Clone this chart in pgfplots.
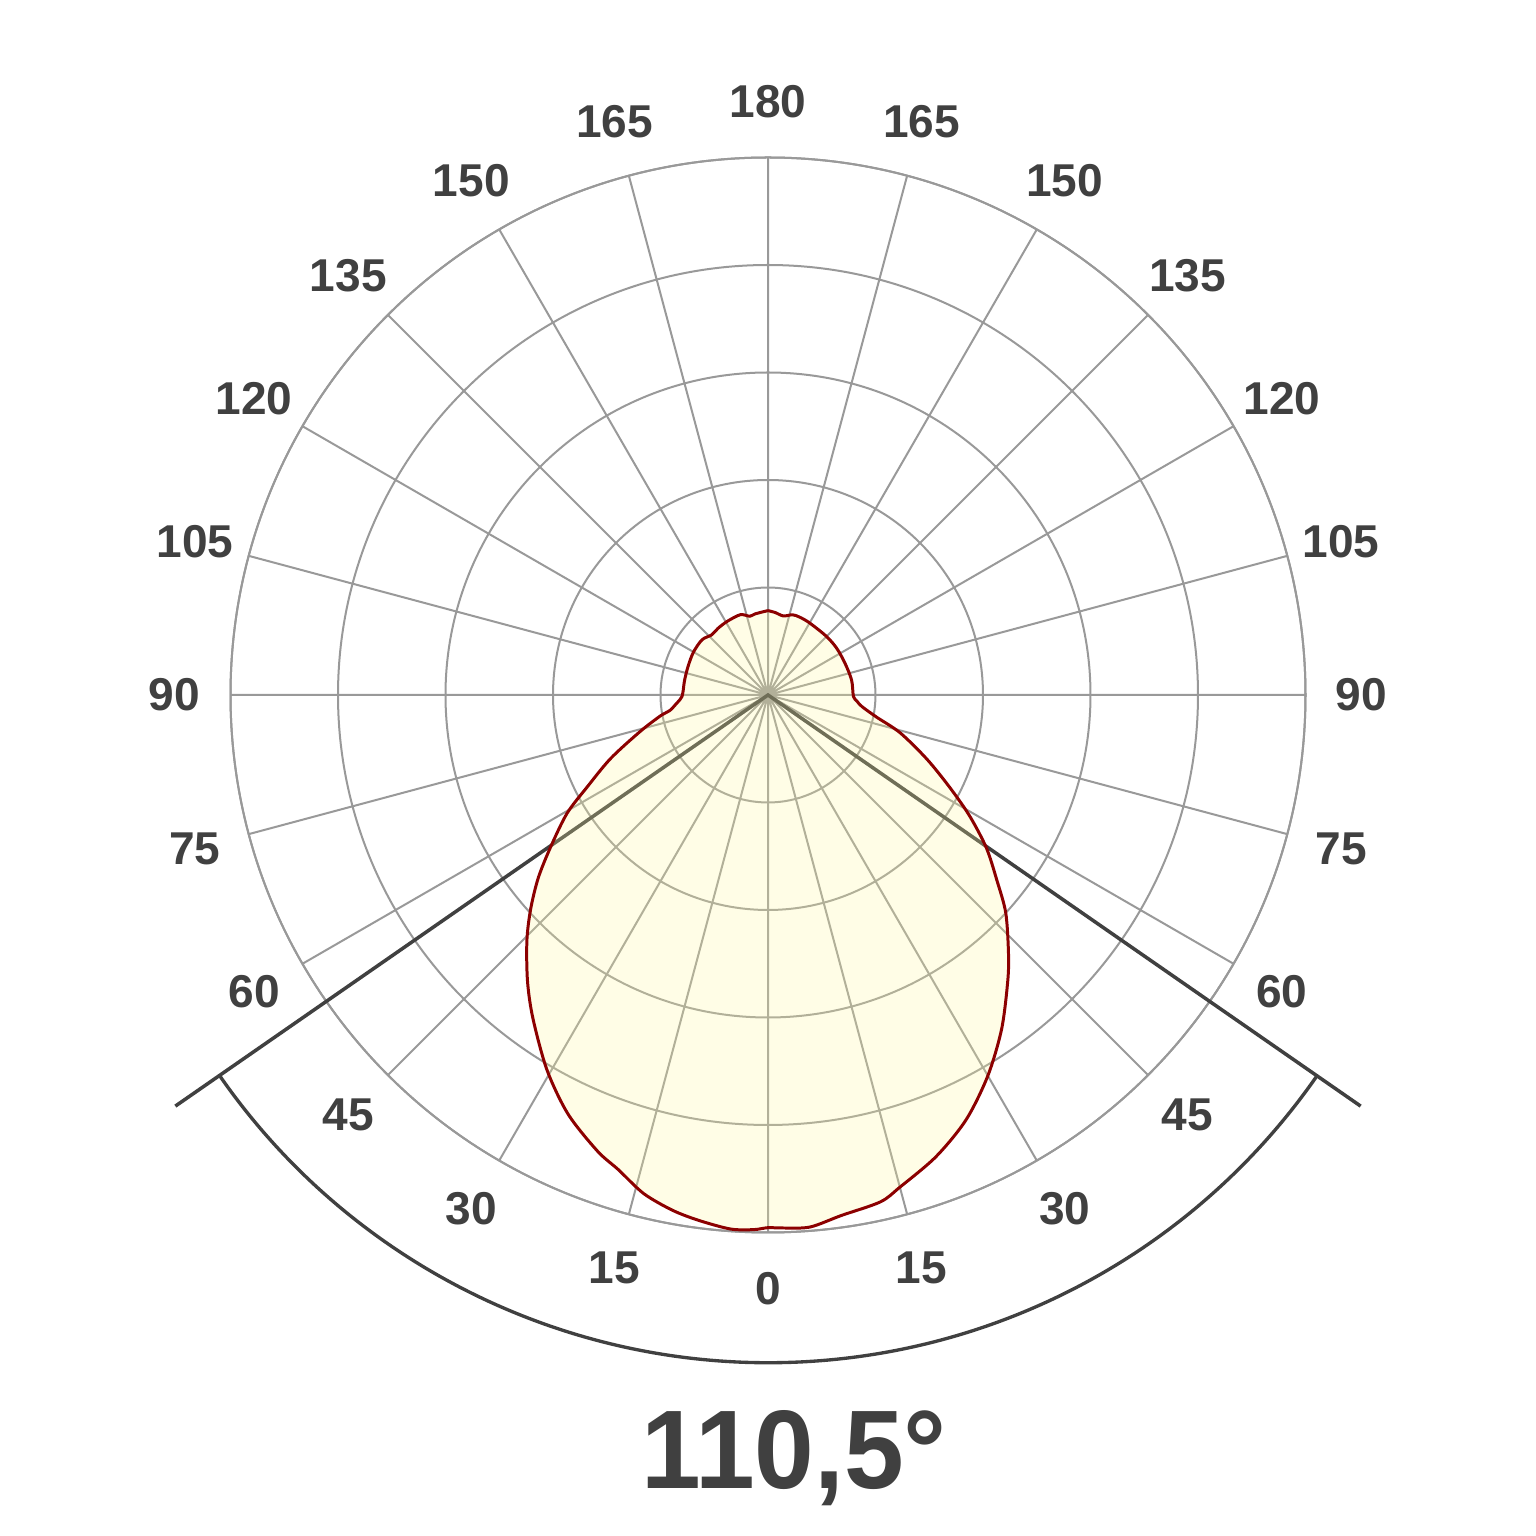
\documentclass[border=0pt]{standalone}
\usepackage{pgfplots}
\pgfplotsset{compat=1.18}
\usepackage{pgfplotstable}
\usepgfplotslibrary{polar}
\usepackage{fontspec}
\setmainfont{Liberation Sans}
\newfontfamily\lblfont{Liberation Sans}
\newfontfamily\titlefont{Liberation Sans}[FakeStretch=0.96]

\definecolor{gridgray}{RGB}{153,153,153}
\definecolor{txtgray}{RGB}{64,64,64}
\definecolor{curvered}{RGB}{140,0,0}
\definecolor{lightyellow}{RGB}{255,248,156}

% luminous intensity, g = angle from nadir (right side positive), r in ring units
\pgfplotstableread{
g r
-180 0.785
-171 0.764
-167 0.752
-161 0.790
-151 0.783
-143 0.775
-137 0.766
-130 0.800
-120 0.800
-110 0.790
-100 0.788
-93 0.790
-89 0.800
-87 0.820
-85 0.850
-81 0.925
-79 1.020
-74 1.240
-68 1.580
-63 1.890
-59.5 2.170
-55 2.470
-51.5 2.730
-48 2.970
-44.5 3.200
-40 3.480
-36 3.720
-30.5 4.050
-25.5 4.320
-20.5 4.530
-17.5 4.630
-14 4.780
-10.5 4.875
-7.5 4.930
-4 4.980
-1.5 4.975
0 4.955
1.5 4.960
4.5 4.965
8 4.890
12.5 4.830
15 4.740
20 4.570
25 4.360
30 4.090
35 3.790
40 3.470
43 3.280
47.5 3.000
51 2.740
55 2.480
59 2.190
63 1.900
68 1.595
74 1.280
78.5 1.030
83 0.880
86 0.830
89 0.795
100 0.790
112 0.775
124 0.773
135 0.770
150 0.774
158 0.782
163 0.780
169 0.749
175 0.770
180 0.785
}\lumdata

\begin{document}
\begin{tikzpicture}
\useasboundingbox (0,0) rectangle (15.36cm,15.36cm);
\begin{polaraxis}[
  at={(7.68cm,8.41cm)}, anchor=center,
  width=10.75cm, height=10.75cm, scale only axis,
  ymin=0, ymax=5,
  xtick={0,15,...,345}, ytick={1,2,3,4,5},
  xticklabels={}, yticklabels={},
  xmajorgrids, ymajorgrids,
  major tick length=0pt,
  major grid style={draw=gridgray, line width=0.57pt},
  axis line style={draw=gridgray, line width=0.57pt},
  clip=false,
]
% beam angle lines (110,5 deg)
\addplot[draw=txtgray, line width=1pt] coordinates {(214.75,6.71) (0,0) (325.25,6.71)};
\draw[txtgray, line width=0.95pt] (axis cs:214.75,6.21) arc[start angle=214.75, end angle=325.25, radius=6.68cm];
\addplot[draw=curvered, line width=0.85pt, fill=lightyellow, fill opacity=0.25, smooth, tension=0.5]
  table[x expr=\thisrow{g}+270, y=r] {\lumdata};
\foreach \p/\l in {0/90,15/105,30/120,45/135,60/150,75/165,90/180,105/165,120/150,135/135,150/120,165/105,180/90,195/75,210/60,225/45,240/30,255/15,270/0,285/15,300/30,315/45,330/60,345/75}{
  \edef\tmp{\noexpand\node[text=txtgray, font=\noexpand\lblfont\noexpand\bfseries\noexpand\fontsize{13.1}{15}\noexpand\selectfont, inner sep=0pt] at (axis cs:\p,5.52) {\l};}\tmp
}
\end{polaraxis}
\node[anchor=base, text=txtgray, font=\titlefont\bfseries\fontsize{31.8}{36}\selectfont, inner sep=0pt] at (7.94cm,0.48cm) {110,5°};
\end{tikzpicture}
\end{document}
